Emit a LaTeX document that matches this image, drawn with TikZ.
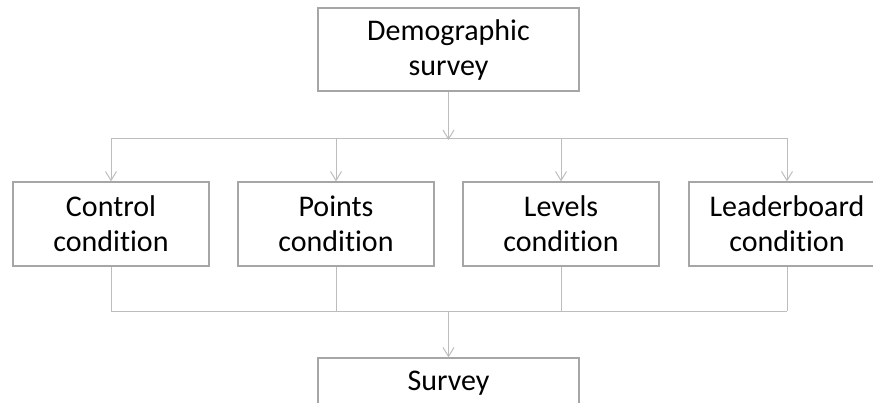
\documentclass[tikz,border=0pt]{standalone}
\usepackage{fontspec}
\setmainfont{Carlito}[Ligatures={NoCommon}]
\usetikzlibrary{arrows.meta}
\definecolor{boxline}{HTML}{A6A6A6}
\definecolor{connline}{HTML}{BDBDBD}
\begin{document}
\begin{tikzpicture}[x=1pt,y=-1pt,
  stepbox/.style={draw=boxline,line width=1.2pt,fill=white,inner sep=0pt,
    minimum width=196pt,minimum height=84pt,align=center,
    font=\fontsize{30}{35}\selectfont},
  widebox/.style={stepbox,minimum width=261pt,minimum height=83pt},
  conn/.style={draw=connline,line width=1pt},
  flow/.style={conn,-{Straight Barb[length=9pt,width=11pt]}}]
\useasboundingbox (0,0) rectangle (873,402);
\clip (0,0) rectangle (873,402);
% boxes
\node[widebox] (demo) at (448.5,49.5) {Demographic\\survey};
\node[stepbox] (control) at (111,224) {Control\\condition};
\node[stepbox] (points) at (336,224) {Points\\condition};
\node[stepbox] (levels) at (561,224) {Levels\\condition};
\node[stepbox] (leader) at (787,224) {Leaderboard\\condition};
\node[widebox,text height=20pt,text depth=39pt] (survey) at (448.5,399.5) {Survey};
% branch points
\coordinate (split) at (448.5,138);
\coordinate (s1) at (111,138);
\coordinate (s4) at (787,138);
\coordinate (merge) at (448.5,311);
\coordinate (m1) at (111,311);
\coordinate (m2) at (336,311);
\coordinate (m3) at (561,311);
\coordinate (m4) at (787,311);
% fan out
\draw[conn] (s1) -- (s4);
\draw[flow] (demo.south) -- ([yshift=-2pt]split);
\draw[flow] (s1) -- (control.north);
\draw[flow] (s1 -| points.north) -- (points.north);
\draw[flow] (s1 -| levels.north) -- (levels.north);
\draw[flow] (s4) -- (leader.north);
% fan in
\draw[conn] (control.south) -- (m1);
\draw[conn] (points.south) -- (m2);
\draw[conn] (levels.south) -- (m3);
\draw[conn] (leader.south) -- (m4);
\draw[conn] (m1) -- (m4);
\draw[flow] (merge) -- (survey.north);
\end{tikzpicture}
\end{document}
